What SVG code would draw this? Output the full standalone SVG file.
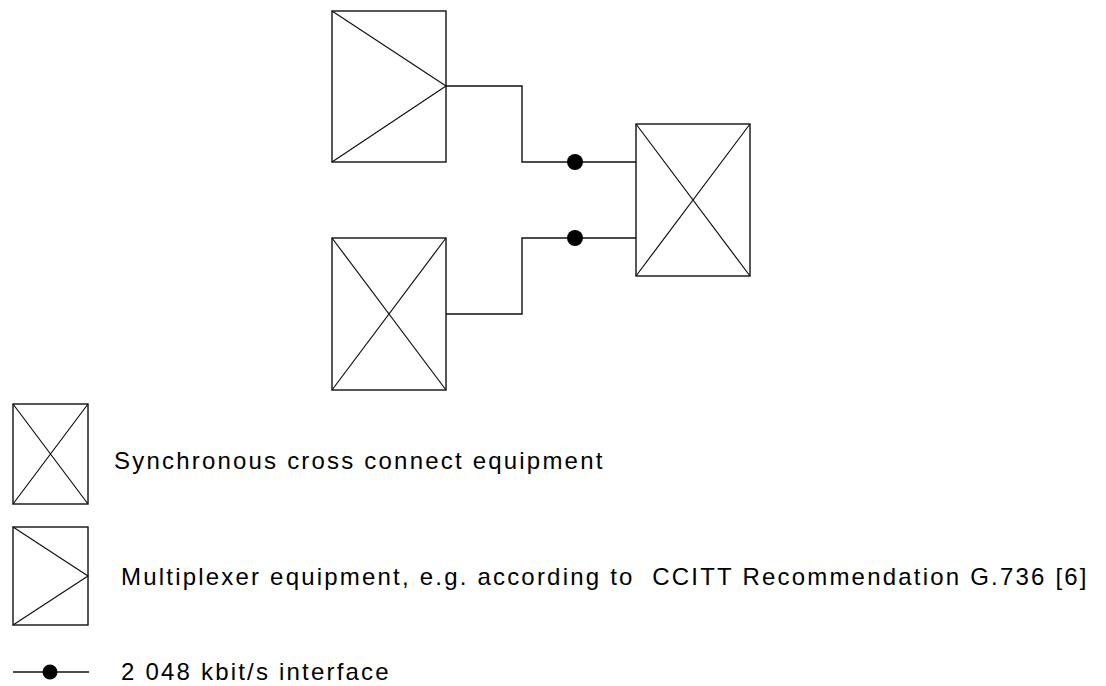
<svg xmlns="http://www.w3.org/2000/svg" width="1106" height="686" viewBox="0 0 1106 686">
<style>
.box{fill:#fff;stroke:#111;stroke-width:1.4}
.diag{fill:none;stroke:#111;stroke-width:1.2}
.wire{fill:none;stroke:#111;stroke-width:1.4}
.dot{fill:#000}
.lbl{font-family:"Liberation Sans",Arial,sans-serif;font-size:24px;letter-spacing:2.2px;fill:#000;white-space:pre}
</style>
<rect width="1106" height="686" fill="#fff"/>
<g id="mux-top">
<rect class="box" x="332" y="11" width="114" height="151"/>
<path class="diag" d="M332,11 L446,86 L332,162"/>
</g>
<g id="cross-bottom">
<rect class="box" x="332" y="238" width="114" height="152"/>
<path class="diag" d="M332,238 L446,390 M446,238 L332,390"/>
</g>
<g id="cross-right">
<rect class="box" x="636" y="124" width="114" height="152"/>
<path class="diag" d="M636,124 L750,276 M750,124 L636,276"/>
</g>
<g id="connectors">
<path class="wire" d="M446,86 H522 V162 H636"/>
<path class="wire" d="M446,314 H522 V238 H636"/>
<circle class="dot" cx="575" cy="162" r="8"/>
<circle class="dot" cx="575" cy="238" r="8"/>
</g>
<g id="legend-cross">
<rect class="box" x="13" y="404" width="75" height="100"/>
<path class="diag" d="M13,404 L88,504 M88,404 L13,504"/>
<text class="lbl" x="114" y="469">Synchronous cross connect equipment</text>
</g>
<g id="legend-mux">
<rect class="box" x="13" y="527" width="75" height="98"/>
<path class="diag" d="M13,527 L88,576 L13,625"/>
<text class="lbl" x="121" y="585" xml:space="preserve">Multiplexer equipment, e.g. according to  CCITT Recommendation G.736 [6]</text>
</g>
<g id="legend-interface">
<path class="wire" d="M13,672 H89"/>
<circle class="dot" cx="50" cy="672" r="7.5"/>
<text class="lbl" x="121" y="680">2 048 kbit/s interface</text>
</g>
</svg>
